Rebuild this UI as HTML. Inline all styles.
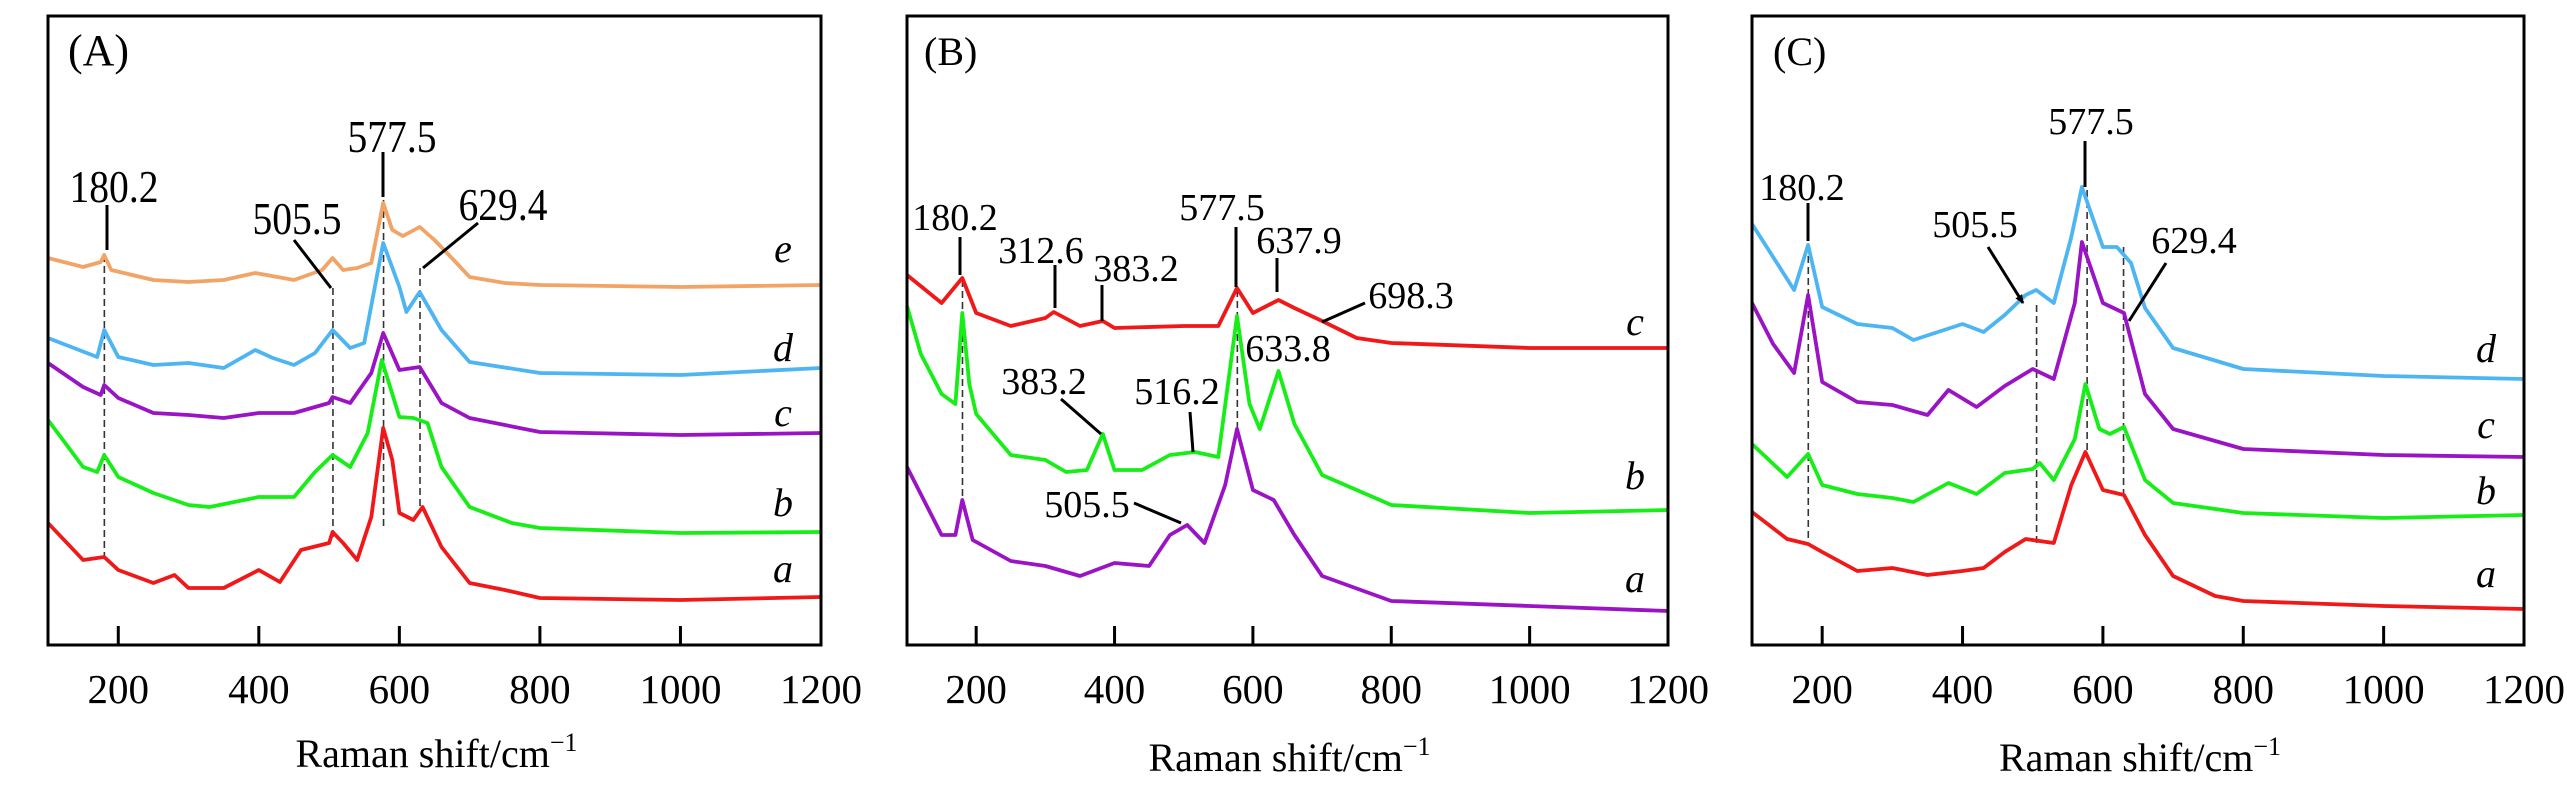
<!DOCTYPE html>
<html><head><meta charset="utf-8"><style>
html,body{margin:0;padding:0;background:#fff;}
svg{display:block;font-family:"Liberation Serif","Times New Roman",serif;}
</style></head><body>
<svg id="chart" width="2567" height="787" viewBox="0 0 2567 787" xmlns="http://www.w3.org/2000/svg"></svg>
<script>
// ---- data ----
const xTicks = [200, 400, 600, 800, 1000, 1200];
const xTickLabels = ["200", "400", "600", "800", "1000", "1200"];

// Panel A
const aEw = [100,150,175,180,190,250,300,350,395,450,490,505,520,540,560,577,590,605,629,650,680,700,750,800,1000,1200];
const aEv = [387,378,383,390,375,365,363,365,372,365,375,387,375,377,382,442,415,409,418,405,383,368,362,360,358,360];
const aDw = [100,170,180,200,250,300,350,395,420,450,480,505,530,550,577,600,610,629,660,700,800,1000,1200];
const aDv = [307,288,315,288,280,282,277,295,287,280,292,315,297,302,402,358,333,353,315,283,272,270,277];
const aCw = [100,150,175,180,200,250,300,350,400,450,500,505,530,560,577,600,629,660,700,800,1000,1200];
const aCv = [282,258,250,260,247,232,230,227,232,232,242,248,242,272,312,275,278,242,227,213,210,212];
const aBw = [100,150,170,180,200,250,300,330,400,450,480,505,530,555,575,600,620,640,660,700,760,800,1000,1200];
const aBv = [225,178,173,190,168,152,140,138,148,148,173,190,178,212,285,228,227,222,178,138,122,117,112,113];
const aAw = [100,150,180,200,250,280,300,350,400,430,460,500,505,520,540,560,577,590,600,620,633,660,700,750,800,1000,1200];
const aAv = [122,85,88,75,62,70,57,57,75,63,95,102,113,102,85,128,217,185,132,125,138,98,62,55,47,45,48];

// Panel B
const bCw = [100,150,180,200,250,300,312,350,383,400,500,550,577,600,637,660,700,750,800,1000,1200];
const bCv = [370,342,367,332,319,327,333,319,324,317,319,319,357,332,345,337,324,307,302,297,297];
const bBw = [100,120,150,170,180,190,200,250,300,330,360,383,400,440,480,516,550,577,595,610,637,660,700,800,1000,1200];
const bBv = [339,291,251,241,332,261,231,190,185,173,175,211,175,175,190,193,188,329,241,216,274,221,170,140,132,135];
const bAw = [100,150,170,180,195,250,300,350,400,450,480,505,530,560,577,600,630,660,700,800,1000,1200];
const bAv = [178,110,110,145,105,84,79,69,82,79,110,120,102,160,216,155,145,110,69,44,39,34];

// Panel C
const cDw = [100,130,160,180,200,250,300,330,400,430,460,490,505,530,555,570,600,620,640,660,700,800,1000,1200];
const cDv = [421,388,355,400,338,321,317,305,321,313,330,350,355,342,408,458,398,398,382,337,297,276,269,266];
const cCw = [100,130,160,180,200,250,300,350,380,420,460,500,530,560,570,600,630,660,700,800,1000,1200];
const cCv = [342,301,272,350,263,243,240,230,255,238,259,276,266,342,403,342,332,251,216,196,190,188];
const cBw = [100,150,180,200,250,300,330,380,420,460,500,510,530,560,575,595,610,630,660,700,800,1000,1200];
const cBv = [201,168,191,160,151,147,143,162,151,172,176,182,165,206,261,216,211,218,165,142,132,127,130];
const cAw = [100,150,180,200,250,300,350,400,430,460,490,530,555,575,600,630,660,700,760,800,1000,1200];
const cAv = [133,106,101,93,74,77,70,74,77,93,106,102,160,193,155,150,110,69,49,44,39,36];

const NS = "http://www.w3.org/2000/svg";
const svg = document.getElementById("chart");
function mk(tag, attrs, parent) {
  const e = document.createElementNS(NS, tag);
  for (const k in attrs) e.setAttribute(k, attrs[k]);
  (parent || svg).appendChild(e);
  return e;
}
const TOP = 16, BOT = 645, VMAX = 629;
function yS(v) { return BOT - v / VMAX * (BOT - TOP); }

const panels = [
  { id: "a", letter: "(A)", x0: 48, x1: 821, lx: 68, titleY: 753, nfs: 46, nsx: 0.86, lfs: 44,
    series: [
      { n: "e", w: aEw, v: aEv, c: "#F2A466", lbl: [783, 262] },
      { n: "d", w: aDw, v: aDv, c: "#4DB5F2", lbl: [783, 361] },
      { n: "c", w: aCw, v: aCv, c: "#9A14C6", lbl: [783, 426] },
      { n: "b", w: aBw, v: aBv, c: "#17EE17", lbl: [783, 516] },
      { n: "a", w: aAw, v: aAv, c: "#F01818", lbl: [783, 582] } ],
    dashes: [[180.2, 255, 560], [505.5, 288, 540], [577.5, 200, 530], [629.4, 268, 508]],
    notes: [
      { t: "180.2", x: 114, y: 202, l: [107, 205, 107, 250] },
      { t: "505.5", x: 297, y: 234, l: [294, 240, 331, 288] },
      { t: "577.5", x: 392, y: 152, l: [383, 152, 383, 197] },
      { t: "629.4", x: 503, y: 220, l: [478, 223, 423, 268] } ] },
  { id: "b", letter: "(B)", x0: 907, x1: 1668, lx: 924, titleY: 757, nfs: 38, nsx: 1, lfs: 40,
    series: [
      { n: "c", w: bCw, v: bCv, c: "#F01818", lbl: [1635, 335] },
      { n: "b", w: bBw, v: bBv, c: "#17EE17", lbl: [1635, 489] },
      { n: "a", w: bAw, v: bAv, c: "#9A14C6", lbl: [1635, 592] } ],
    dashes: [[180.2, 280, 500], [577.5, 290, 430]],
    notes: [
      { t: "180.2", x: 955, y: 230, l: [960, 237, 960, 275] },
      { t: "312.6", x: 1041, y: 263, l: [1055, 265, 1055, 308] },
      { t: "383.2", x: 1136, y: 281, l: [1102, 285, 1102, 321] },
      { t: "577.5", x: 1222, y: 220, l: [1236, 227, 1236, 287] },
      { t: "637.9", x: 1299, y: 253, l: [1277, 258, 1277, 292] },
      { t: "698.3", x: 1411, y: 308, l: [1365, 303, 1322, 322] },
      { t: "633.8", x: 1288, y: 361, l: null },
      { t: "383.2", x: 1044, y: 394, l: [1061, 399, 1101, 434] },
      { t: "516.2", x: 1177, y: 404, l: [1190, 412, 1193, 452] },
      { t: "505.5", x: 1087, y: 517, l: [1134, 503, 1181, 523] } ] },
  { id: "c", letter: "(C)", x0: 1752, x1: 2524, lx: 1773, titleY: 757, nfs: 38, nsx: 1, lfs: 40,
    series: [
      { n: "d", w: cDw, v: cDv, c: "#4DB5F2", lbl: [2486, 362] },
      { n: "c", w: cCw, v: cCv, c: "#9A14C6", lbl: [2486, 438] },
      { n: "b", w: cBw, v: cBv, c: "#17EE17", lbl: [2486, 504] },
      { n: "a", w: cAw, v: cAv, c: "#F01818", lbl: [2486, 587] } ],
    dashes: [[180.2, 245, 540], [505.5, 305, 545], [577.5, 190, 455], [629.4, 247, 500]],
    notes: [
      { t: "180.2", x: 1802, y: 200, l: [1808, 203, 1808, 241] },
      { t: "505.5", x: 1975, y: 237, l: [1988, 247, 2023, 303], arrow: true },
      { t: "577.5", x: 2091, y: 134, l: [2085, 141, 2085, 187] },
      { t: "629.4", x: 2194, y: 253, l: [2166, 263, 2129, 321] } ] }
];

const defs = mk("defs", {});
const mkr = mk("marker", { id: "arr", markerWidth: 10, markerHeight: 10, refX: 8, refY: 5, orient: "auto", markerUnits: "userSpaceOnUse" }, defs);
mk("path", { d: "M0,1 L9,5 L0,9 Z", fill: "#000" }, mkr);

panels.forEach(p => {
  const xS = w => p.x0 + (w - 100) / 1100 * (p.x1 - p.x0);
  const g = mk("g", {});
  
  

  p.dashes.forEach(d => {
    const ln = mk("line", { x1: xS(d[0]), x2: xS(d[0]), y1: d[1], y2: d[2], stroke: "#333", "stroke-width": 1.6, "stroke-dasharray": "7,4" }, g);
    
    
  });

  p.series.forEach(s => {
    const pts = s.w.map((w, i) => xS(w).toFixed(1) + "," + yS(s.v[i]).toFixed(1)).join(" ");
    const pl = mk("polyline", { points: pts, fill: "none", stroke: s.c, "stroke-width": 3.8, "stroke-linejoin": "round" }, g);
    
    
    const t = mk("text", { x: s.lbl[0], y: s.lbl[1], "font-size": 40, "font-style": "italic", "text-anchor": "middle" }, g);
    t.textContent = s.n;
    
    
  });

  p.notes.forEach(n => {
    const t = mk("text", { x: 0, y: 0, transform: "translate(" + n.x + "," + n.y + ") scale(" + p.nsx + ",1)", "font-size": p.nfs, "text-anchor": "middle" }, g);
    t.textContent = n.t;
    
    
    if (n.l) {
      const a = { x1: n.l[0], y1: n.l[1], x2: n.l[2], y2: n.l[3], stroke: "#000", "stroke-width": 3 };
      if (n.arrow) a["marker-end"] = "url(#arr)";
      const ln = mk("line", a, g);
      
      
    }
  });

  const fr = mk("rect", { x: p.x0, y: TOP, width: p.x1 - p.x0, height: BOT - TOP, fill: "none", stroke: "#000", "stroke-width": 3 }, g);
  
  

  xTicks.forEach((w, i) => {
    const x = xS(w);
    if (w < 1200) {
      const tk = mk("line", { x1: x, x2: x, y1: BOT, y2: BOT - 19, stroke: "#000", "stroke-width": 3 }, g);
      
      
    }
    const tl = mk("text", { x: x, y: 703, "font-size": 41, "text-anchor": "middle" }, g);
    tl.textContent = xTickLabels[i];
    
    
  });

  const tt = mk("text", { x: (p.x0 + p.x1) / 2 + 2, y: p.titleY + 14, "font-size": 40, "text-anchor": "middle" }, g);
  tt.textContent = "Raman shift/cm";
  const sup = mk("tspan", { dy: -16, "font-size": 26 }, tt);
  sup.textContent = "\u22121";
  
  

  const lt = mk("text", { x: p.lx, y: 65, "font-size": p.lfs }, g);
  lt.textContent = p.letter;
  
  
});
</script>
</body></html>
